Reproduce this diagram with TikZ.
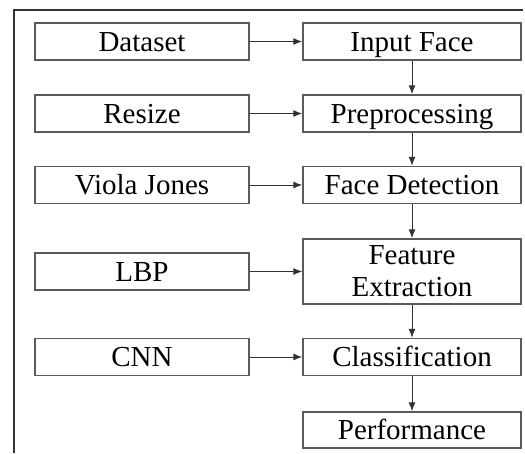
\documentclass[tikz,border=0pt]{standalone}
\usepackage{fontspec}
\setmainfont{Liberation Serif}
\usetikzlibrary{arrows.meta}
\definecolor{boxgray}{RGB}{90,90,90}
\definecolor{framegray}{RGB}{50,50,50}

\tikzset{
  stagebox/.style={draw=boxgray, line width=1.4pt, inner sep=0pt, align=center,
    minimum height=37pt, text height=19pt, text depth=0pt,
    font=\fontsize{29}{32}\selectfont},
  leftbox/.style={stagebox, minimum width=214pt},
  rightbox/.style={stagebox, minimum width=218pt},
  flow/.style={draw=framegray, line width=1pt, -{Latex[length=9pt,width=7pt]}}
}

\begin{document}
\begin{tikzpicture}[x=1pt,y=-1pt]
\useasboundingbox (0,0) rectangle (525,453);
% outer frame
\draw[framegray, line width=2pt] (14,453) -- (14,10) -- (523,10);

% left column
\node[leftbox] (dataset) at (142,41.5) {Dataset};
\node[leftbox] (resize) at (142,113.5) {Resize};
\node[leftbox] (viola) at (142,185) {Viola Jones};
\node[leftbox] (lbp) at (142,271.5) {LBP};
\node[leftbox] (cnn) at (142,357) {CNN};

% right column
\node[rightbox] (input) at (412,41.5) {Input Face};
\node[rightbox] (prep) at (412,113.5) {Preprocessing};
\node[rightbox] (detect) at (412,185) {Face Detection};
\node[rightbox, minimum height=65pt, text height=, text depth=] (feature) at (412,271.5) {Feature\\Extraction};
\node[rightbox] (classify) at (412,357) {Classification};
\node[rightbox, minimum height=36pt] (perf) at (412,430) {Performance};

% horizontal arrows
\draw[flow] (dataset) -- (input);
\draw[flow] (resize) -- (prep);
\draw[flow] (viola) -- (detect);
\draw[flow] (lbp) -- (feature);
\draw[flow] (cnn) -- (classify);

% vertical arrows
\draw[flow] (input) -- (prep);
\draw[flow] (prep) -- (detect);
\draw[flow] (detect) -- (feature);
\draw[flow] (feature) -- (classify);
\draw[flow] (classify) -- (perf);
\end{tikzpicture}
\end{document}
